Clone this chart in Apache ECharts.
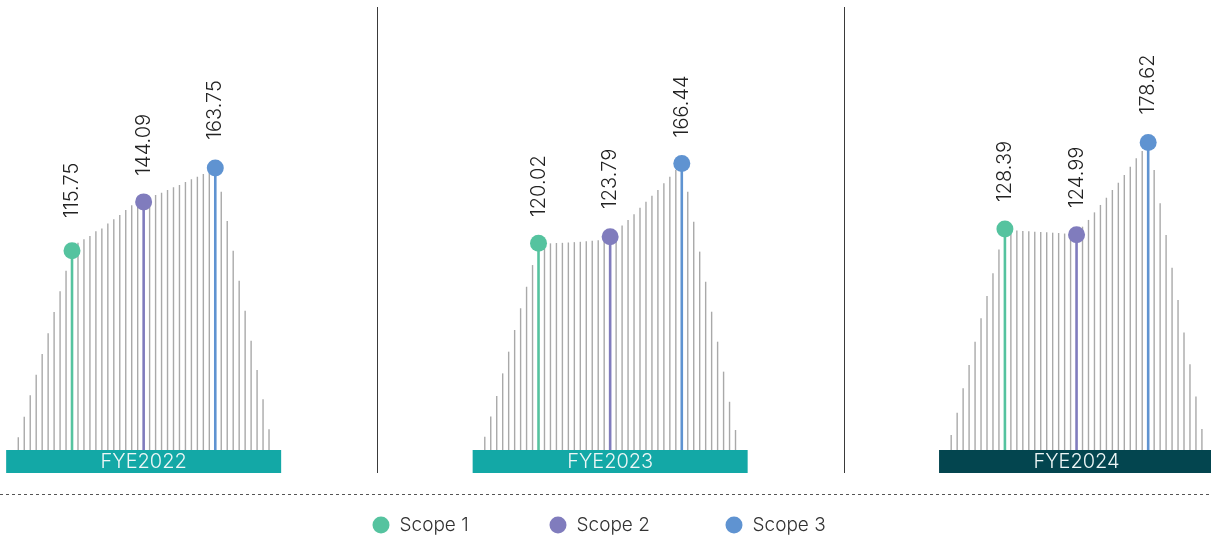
<!DOCTYPE html>
<html>
<head>
<meta charset="utf-8">
<title>Emissions by scope, FYE2022–FYE2024</title>
<script src="https://cdn.jsdelivr.net/npm/echarts@6/dist/echarts.min.js"></script>
<style>
  html, body { margin: 0; padding: 0; background: #ffffff; }
  #chart { width: 1211px; height: 539px; }
</style>
</head>
<body>
<div id="chart"></div>
<script>
// Financial years, one panel each
const years = ['FYE2022', 'FYE2023', 'FYE2024'];
const bandColors = ['#13a8a6', '#13a8a6', '#03454f'];

// Scope names, colours and the slot each scope stem sits on
const scopeNames = ['Scope 1', 'Scope 2', 'Scope 3'];
const scopeColors = ['#55c39f', '#807cbd', '#5f93d1'];
const scopeSlots = [9, 21, 33];

// Scope values per year
const scope1 = [115.75, 120.02, 128.39];
const scope2 = [144.09, 123.79, 124.99];
const scope3 = [163.75, 166.44, 178.62];

// Grey backdrop lines, one value per slot (null where a scope stem stands)
const ridge2022 = [7.4, 19.3, 31.8, 43.7, 55.7, 67.8, 80.1, 92.2, 104.1, null,
  120.4, 122.4, 124.3, 127.0, 128.7, 131.6, 134.0, 136.5, 139.4, 142.1, 143.0, null,
  146.7, 148.1, 149.4, 151.0, 152.6, 153.9, 155.6, 157.2, 158.7, 160.3, 161.6, null,
  150.0, 133.0, 115.7, 98.3, 80.9, 63.5, 46.5, 29.4, 12.0];
const ridge2023 = [7.7, 19.4, 31.4, 44.5, 57.1, 69.7, 82.3, 94.8, 107.4, null,
  120.0, 120.0, 120.2, 120.3, 120.5, 120.7, 120.9, 121.2, 121.5, 121.8, 122.3, null,
  126.4, 130.3, 133.6, 136.9, 140.7, 144.2, 147.7, 151.0, 154.9, 158.7, 162.6, null,
  150.0, 132.6, 115.2, 97.7, 80.3, 62.9, 45.5, 28.0, 11.6];
const ridge2024 = [8.7, 21.7, 35.8, 49.4, 62.9, 76.5, 89.4, 102.6, 116.5, null,
  127.6, 127.4, 127.2, 127.0, 126.8, 126.6, 126.4, 126.2, 126.0, 125.7, 125.4, null,
  129.7, 133.6, 138.0, 142.3, 146.5, 151.0, 155.2, 159.7, 164.5, 169.4, 173.6, null,
  162.6, 143.3, 124.9, 105.9, 87.1, 68.3, 49.8, 31.0, 12.2];

const ridges = [ridge2022, ridge2023, ridge2024];
const scopeValues = [scope1, scope2, scope3];
const slots = ridge2022.map((_, i) => String(i));

const FONT = 'Inter, "Noto Sans", sans-serif';
const panelLeft = [15.3, 481.8, 948.2];
const panelWidth = 256.7;

// Vertical stem from the baseline up to the value, positioned by the axes
function stem(color, width) {
  return function (params, api) {
    const v = api.value(1);
    if (v == null || isNaN(v)) return null;
    const top = api.coord([api.value(0), v]);
    const base = api.coord([api.value(0), 0]);
    return {
      type: 'line',
      shape: { x1: top[0], y1: top[1], x2: base[0], y2: base[1] },
      style: { stroke: color, lineWidth: width }
    };
  };
}

const grids = [], xAxes = [], yAxes = [], series = [];

years.forEach((year, p) => {
  grids.push({
    left: panelLeft[p], width: panelWidth, top: 19.5, height: 430.5,
    containLabel: false, outerBoundsMode: 'none'
  });
  xAxes.push({
    type: 'category', gridIndex: p, data: slots,
    axisLine: { show: false }, axisTick: { show: false }, axisLabel: { show: false },
    splitLine: { show: false },
    name: '{band|' + year + '}', nameLocation: 'middle', nameGap: 0,
    nameTextStyle: {
      verticalAlign: 'top', align: 'center',
      rich: {
        band: {
          color: '#eef7f7', fontFamily: FONT, fontSize: 20, fontWeight: 300,
          backgroundColor: bandColors[p], width: 275, height: 23, lineHeight: 23,
          align: 'center', verticalAlign: 'middle'
        }
      }
    }
  });
  yAxes.push({ type: 'value', gridIndex: p, min: 0, max: 250, show: false });

  series.push({
    type: 'custom', xAxisIndex: p, yAxisIndex: p, silent: true,
    renderItem: stem('#a9a9a9', 1.4),
    encode: { x: 0, y: 1 },
    data: ridges[p].map((v, i) => [i, v == null ? NaN : v])
  });

  scopeNames.forEach((name, s) => {
    const point = [scopeSlots[s], scopeValues[s][p]];
    series.push({
      name, type: 'custom', xAxisIndex: p, yAxisIndex: p, silent: true,
      itemStyle: { color: scopeColors[s] },
      renderItem: stem(scopeColors[s], 2.6),
      encode: { x: 0, y: 1 },
      data: [point]
    });
    series.push({
      name, type: 'scatter', xAxisIndex: p, yAxisIndex: p, z: 5,
      symbol: 'circle', symbolSize: 17,
      itemStyle: { color: scopeColors[s], opacity: 1 },
      label: {
        show: true, rotate: 90, position: ['50%', -79.5],
        align: 'right', verticalAlign: 'middle',
        fontFamily: FONT, fontSize: 20, fontWeight: 300, color: '#222',
        formatter: (d) => d.value[1].toFixed(2)
      },
      data: [point]
    });
  });
});

const legendLefts = [367.5, 544.5, 720.5];
const legends = scopeNames.map((name, s) => ({
  data: [name], left: legendLefts[s], top: 510.5,
  icon: 'circle', itemWidth: 17, itemHeight: 17,
  selectedMode: false,
  textStyle: { fontFamily: FONT, fontSize: 19, fontWeight: 300, color: '#333', padding: [0, 0, 0, 5] }
}));

const chart = echarts.init(document.getElementById('chart'), null, { renderer: 'canvas' });
chart.setOption({
  animation: false,
  backgroundColor: '#ffffff',
  grid: grids,
  xAxis: xAxes,
  yAxis: yAxes,
  legend: legends,
  series,
  graphic: [
    { type: 'line', silent: true, shape: { x1: 377.5, y1: 7, x2: 377.5, y2: 473 },
      style: { stroke: '#3a3a3a', lineWidth: 1 } },
    { type: 'line', silent: true, shape: { x1: 844.5, y1: 7, x2: 844.5, y2: 473 },
      style: { stroke: '#3a3a3a', lineWidth: 1 } },
    { type: 'line', silent: true, shape: { x1: 0, y1: 494.5, x2: 1211, y2: 494.5 },
      style: { stroke: '#555', lineWidth: 1, lineDash: [3, 3] } }
  ]
});
</script>
</body>
</html>
